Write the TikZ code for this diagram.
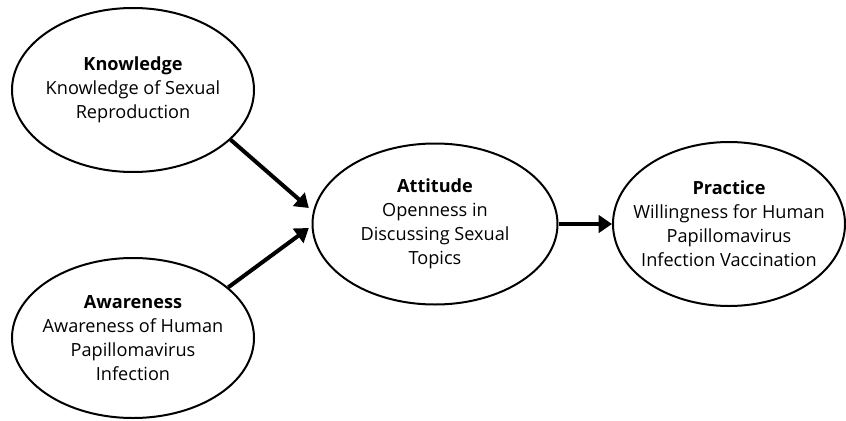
\documentclass[tikz,border=0pt]{standalone}
\usepackage{fontspec}
\setmainfont{Open Sans}
\usetikzlibrary{shapes,arrows.meta,positioning}
\tikzset{
    concept/.style = {draw, ellipse, line width=1.5pt, align=center,
        inner sep=-30pt, font=\fontsize{13.6}{18}\selectfont},
    arrow/.style = {draw, line width=3pt, -{Triangle[length=10pt,width=13pt]}}
}
\newcommand{\head}[1]{\textbf{#1}}

\begin{document}
\begin{tikzpicture}[x=0.75pt, y=-0.75pt]
        \useasboundingbox (0,0) rectangle (846,421);
        \node [concept, minimum width=181.5pt, minimum height=123pt] (know) at (133,90)
            {\head{Knowledge}\\Knowledge of Sexual\\Reproduction};
        \node [concept, minimum width=181.5pt, minimum height=120pt] (aware) at (133,338)
            {\head{Awareness}\\Awareness of Human\\Papillomavirus\\Infection};
        \node [concept, minimum width=183.75pt, minimum height=120.75pt] (att) at (435,224)
            {\head{Attitude}\\Openness in\\Discussing Sexual\\Topics};
        \node [concept, right of=att, node distance=220.5pt,
            minimum width=174pt, minimum height=123pt] (prac)
            {\head{Practice}\\Willingness for Human\\Papillomavirus\\Infection Vaccination};
        \draw [arrow] (know.-27) -- ([xshift=-2pt, yshift=12pt]att.west);
        \draw [arrow] (aware.28) -- ([xshift=-2pt, yshift=-3pt]att.west);
        \draw [arrow] (att.east) -- (prac.west);
\end{tikzpicture}
\end{document}
